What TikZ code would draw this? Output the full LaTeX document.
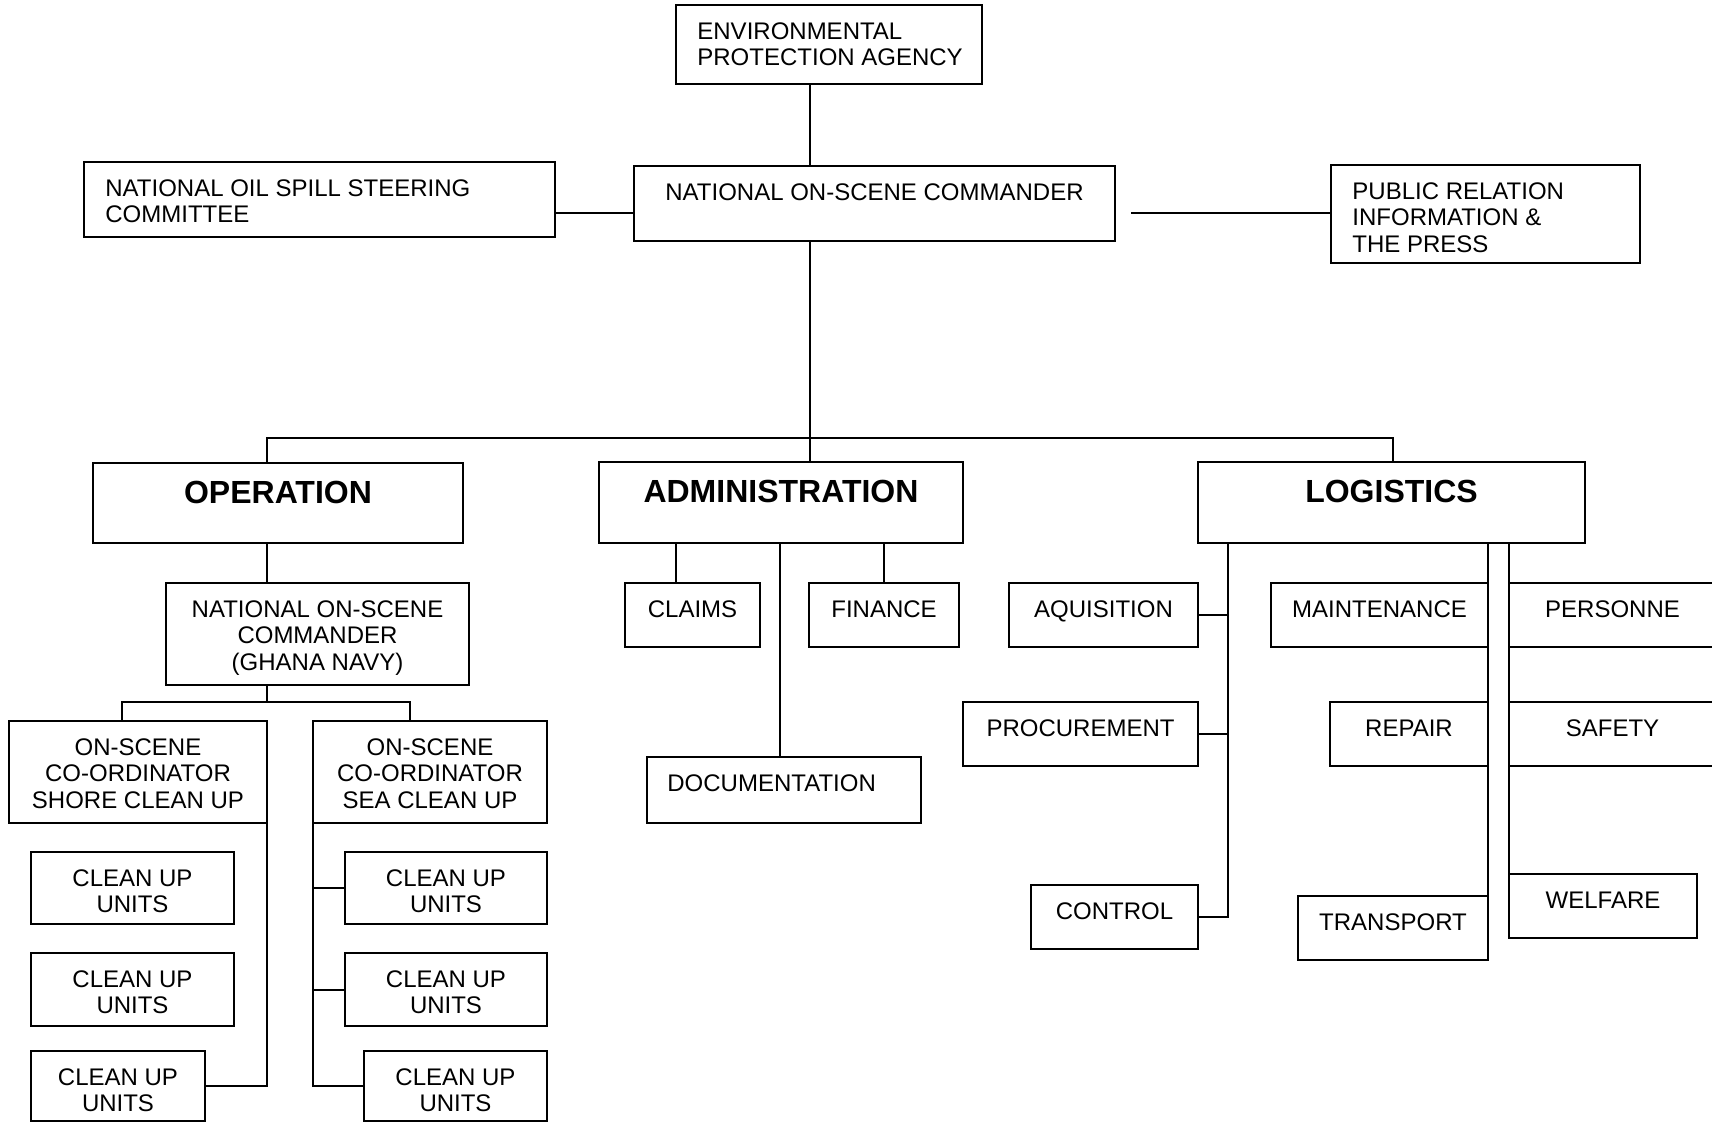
\documentclass[tikz,border=0pt]{standalone}
\usepackage{fontspec}
\setmainfont{Liberation Sans}

\tikzset{
  box/.style={draw, line width=1pt, anchor=north west, inner sep=0pt, outer sep=0pt},
  boxsize/.style 2 args={minimum width=#1*0.5pt, minimum height=#2*0.5pt},
  txt/.style={font=\fontsize{12}{13.3}\selectfont, align=center, inner sep=0pt, anchor=base, yshift=-17pt},
  ltxt/.style={txt, align=left, anchor=base west, xshift=10.5pt},
  twolines/.style={yshift=-13.3pt},
  threelines/.style={yshift=-26.6pt},
  head/.style={font=\fontsize{16}{18}\selectfont\bfseries, inner sep=0pt, anchor=base, yshift=-20pt},
  link/.style={line width=1pt},
}

\begin{document}
\begin{tikzpicture}[x=0.5pt, y=-0.5pt]
      \useasboundingbox (0,0) rectangle (1712,1124);

      \node[box, boxsize={306}{79}, label={[ltxt, twolines]north west:{ENVIRONMENTAL\\PROTECTION AGENCY}}](epa) at (676,5){};
      \node[box, boxsize={481}{75}, label={[txt]north:{NATIONAL ON-SCENE COMMANDER}}](nosc) at (634,166){};
      \node[box, boxsize={471}{75}, label={[ltxt, twolines]north west:{NATIONAL OIL SPILL STEERING\\COMMITTEE}}](steer) at (84,162){};
      \node[box, boxsize={309}{98}, label={[ltxt, threelines]north west:{PUBLIC RELATION\\INFORMATION \&\\THE PRESS}}](pr) at (1331,165){};

      \node[box, boxsize={370}{80}, label={[head]north:OPERATION}](oper) at (93,463){};
      \node[box, boxsize={364}{81}, label={[head]north:ADMINISTRATION}](admin) at (599,462){};
      \node[box, boxsize={387}{81}, label={[head]north:LOGISTICS}](logi) at (1198,462){};

      \node[box, boxsize={303}{102}, label={[txt, threelines]north:{NATIONAL ON-SCENE\\COMMANDER\\(GHANA NAVY)}}](nosc2) at (166,583){};
      \node[box, boxsize={258}{102}, label={[txt, threelines]north:{ON-SCENE\\CO-ORDINATOR\\SHORE CLEAN UP}}](shore) at (9,721){};
      \node[box, boxsize={234}{102}, label={[txt, threelines]north:{ON-SCENE\\CO-ORDINATOR\\SEA CLEAN UP}}](sea) at (313,721){};

      \foreach \n/\x/\y/\w/\h in {l1/31/852/203/72, l2/31/953/203/73, l3/31/1051/174/70, r1/345/852/202/72, r2/345/953/202/73, r3/364/1051/183/70} {
        \node[box, boxsize={\w}{\h}, label={[txt, twolines]north:{CLEAN UP\\UNITS}}](cu\n) at (\x,\y){};
      }

      \node[box, boxsize={135}{64}, label={[txt]north:CLAIMS}](claims) at (625,583){};
      \node[box, boxsize={150}{64}, label={[txt]north:FINANCE}](finance) at (809,583){};
      \node[box, boxsize={274}{66}, label={[ltxt, xshift=-0.5pt]north west:DOCUMENTATION}](docu) at (647,757){};

      \node[box, boxsize={189}{64}, label={[txt]north:AQUISITION}](aqui) at (1009,583){};
      \node[box, boxsize={235}{64}, label={[txt]north:PROCUREMENT}](proc) at (963,702){};
      \node[box, boxsize={167}{64}, label={[txt]north:CONTROL}](control) at (1031,885){};
      \node[box, boxsize={217}{64}, label={[txt]north:MAINTENANCE}](maint) at (1271,583){};
      \node[box, boxsize={158}{64}, label={[txt]north:REPAIR}](repair) at (1330,702){};
      \node[box, boxsize={190}{64}, label={[txt]north:TRANSPORT}](transport) at (1298,896){};
      \node[box, boxsize={207}{64}, label={[txt]north:PERSONNE}](personne) at (1509,583){};
      \node[box, boxsize={207}{64}, label={[txt]north:SAFETY}](safety) at (1509,702){};
      \node[box, boxsize={188}{64}, label={[txt]north:WELFARE}](welfare) at (1509,874){};

      \coordinate (top) at (810,438);
      \coordinate (busL) at (267,438);
      \coordinate (busR) at (1393,438);
      \coordinate (side) at (0,213);
      \coordinate (prgap) at (1131,213);
      \coordinate (shoreTop) at (122,702);
      \coordinate (seaTop) at (410,702);

      \draw[link] (epa.south -| top) -- (nosc.north -| top);
      \draw[link] (nosc.south -| top) -- (top);
      \draw[link] (steer.east |- side) -- (nosc.west |- side);
      \draw[link] (prgap) -- (pr.west |- prgap);

      \draw[link] (oper.north -| busL) -- (busL) -- (busR) -- (logi.north -| busR);
      \draw[link] (top) -- (admin.north -| top);

      \draw[link] (oper.south -| busL) -- (nosc2.north -| busL);
      \draw[link] (nosc2.south -| busL) -- (busL |- shoreTop);
      \draw[link] (shore.north -| shoreTop) -- (shoreTop) -- (seaTop) -- (sea.north -| seaTop);
      \draw[link] (shore.south east) -- (shore.south east |- cul3.east) -- (cul3.east);
      \draw[link] (sea.south west) -- (sea.south west |- cur3.west) -- (cur3.west);
      \foreach \n in {r1,r2} {
        \draw[link] (sea.south west |- cu\n.west) -- (cu\n.west);
      }

      \draw[link] (admin.south -| 676,0) -- (claims.north -| 676,0);
      \draw[link] (admin.south -| finance.north) -- (finance.north);
      \draw[link] (admin.south -| 780,0) -- (docu.north -| 780,0);

      \draw[link] (logi.south -| 1228,0) -- (control.east -| 1228,0) -- (control.east);
      \draw[link] (aqui.east) -- (aqui.east -| 1228,0);
      \draw[link] (proc.east) -- (proc.east -| 1228,0);
      \draw[link] (logi.south -| maint.east) -- (transport.north east);
      \draw[link] (logi.south -| personne.west) -- (welfare.north west);
    \end{tikzpicture}
\end{document}
